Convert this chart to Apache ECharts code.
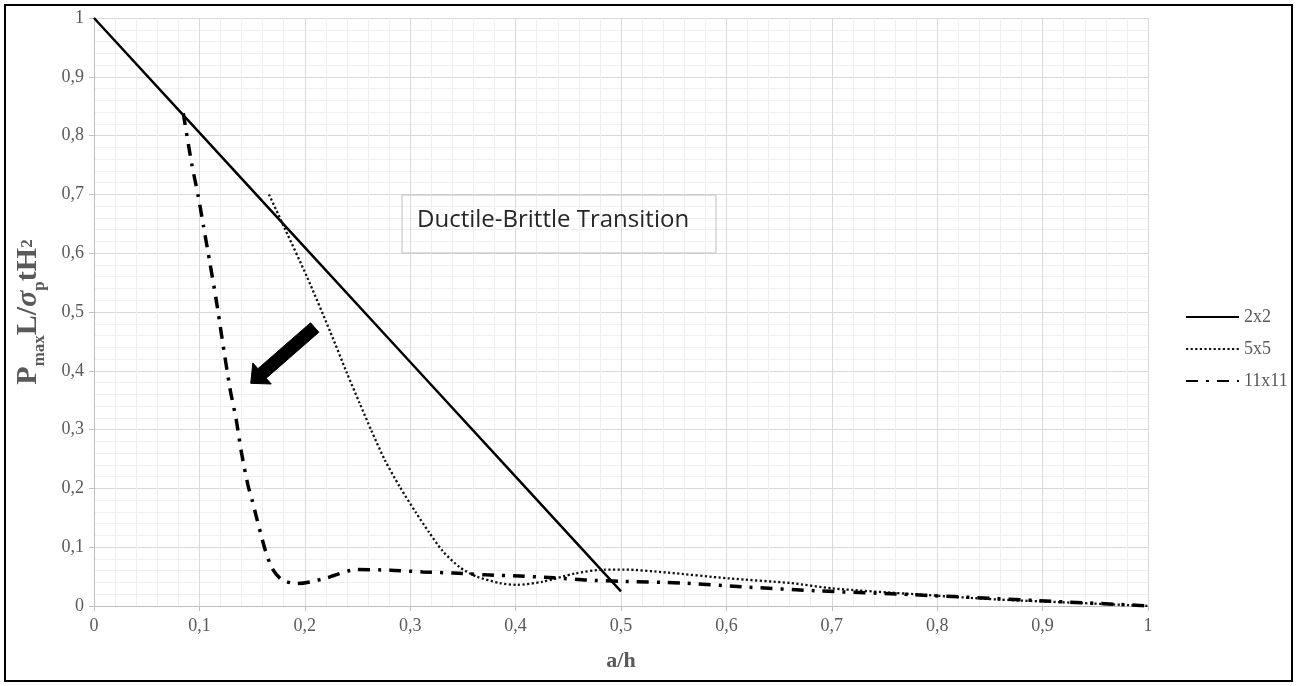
<!DOCTYPE html>
<html><head><meta charset="utf-8">
<script src="https://cdn.jsdelivr.net/npm/echarts@6/dist/echarts.min.js"></script>
<style>html,body{margin:0;padding:0;background:#fff}#c{width:1297px;height:686px}</style>
</head><body><div id="c"></div>
<script>
// ---- data ----
const seriesNames = ['2x2', '5x5', '11x11'];
const x2x2 = [0, 0.1, 0.2, 0.3, 0.4, 0.5];
const y2x2 = [1, 0.805, 0.61, 0.415, 0.22, 0.025];
const x5x5 = [0.166, 0.181, 0.202, 0.224, 0.240, 0.252, 0.263, 0.276, 0.290, 0.305, 0.318, 0.331, 0.347, 0.363, 0.385, 0.401, 0.425, 0.456, 0.484, 0.503, 0.543, 0.602, 0.661, 0.700, 0.779, 0.858, 0.937, 1.0];
const y5x5 = [0.700, 0.642, 0.560, 0.467, 0.396, 0.345, 0.299, 0.248, 0.203, 0.160, 0.125, 0.093, 0.066, 0.050, 0.039, 0.036, 0.041, 0.055, 0.062, 0.062, 0.057, 0.047, 0.039, 0.030, 0.020, 0.011, 0.005, 0.000];
const x11x11 = [0.0847, 0.0926, 0.099, 0.104, 0.110, 0.116, 0.121, 0.129, 0.135, 0.140, 0.146, 0.150, 0.154, 0.162, 0.169, 0.178, 0.192, 0.205, 0.221, 0.249, 0.281, 0.312, 0.341, 0.372, 0.404, 0.436, 0.468, 0.499, 0.558, 0.621, 0.684, 0.779, 0.897, 0.992, 1.0];
const y11x11 = [0.838, 0.753, 0.696, 0.645, 0.583, 0.520, 0.461, 0.370, 0.316, 0.260, 0.206, 0.180, 0.152, 0.098, 0.064, 0.045, 0.038, 0.041, 0.048, 0.062, 0.061, 0.058, 0.056, 0.053, 0.051, 0.048, 0.044, 0.042, 0.039, 0.032, 0.026, 0.019, 0.009, 0.001, 0.000];
const annotationText = 'Ductile-Brittle Transition';
const arrowTail = [0.2094, 0.4736];
const arrowTip = [0.1487, 0.3787];

const pairs = (xs, ys) => xs.map((x, i) => [x, ys[i]]);
const fmt = v => String(Math.round(v * 10) / 10).replace('.', ',');
const grey = '#595959';
const serif = 'Liberation Serif';

const chart = echarts.init(document.getElementById('c'), null, { renderer: 'canvas' });

const axisCommon = {
  type: 'value', min: 0, max: 1, interval: 0.1,
  axisLine: { show: true, lineStyle: { color: '#bfbfbf', width: 1 } },
  axisTick: { show: true, length: 5, lineStyle: { color: '#bfbfbf' } },
  axisLabel: { formatter: fmt, fontFamily: serif, fontSize: 18, color: grey },
  splitLine: { show: true, lineStyle: { color: '#d9d9d9', width: 1 } },
  minorTick: { show: false, splitNumber: 5 },
  minorSplitLine: { show: true, lineStyle: { color: '#efefef', width: 1 } }
};

chart.setOption({
  animation: false,
  backgroundColor: '#fff',
  grid: { left: 94, right: 149, top: 18, bottom: 80, containLabel: false },
  legend: {
    data: seriesNames, orient: 'vertical', left: 1185, top: 308, padding: 0,
    itemWidth: 53, itemHeight: 14, itemGap: 14,
    itemStyle: { opacity: 0 },
    textStyle: { fontFamily: serif, fontSize: 18, color: grey }
  },
  xAxis: Object.assign({}, axisCommon, {
    name: 'a/h', nameLocation: 'middle', nameGap: 44,
    nameTextStyle: { fontFamily: serif, fontSize: 22, fontWeight: 'bold', color: grey },
    axisLabel: Object.assign({}, axisCommon.axisLabel, { margin: 11 })
  }),
  yAxis: Object.assign({}, axisCommon, {
    name: '{b|P}{s|max}{b|L/}{i|σ}{s|p}{b|tH}{u|2}',
    nameLocation: 'middle', nameRotate: 90, nameGap: 46,
    nameTextStyle: {
      color: grey,
      rich: {
        b: { fontFamily: serif, fontSize: 30, fontWeight: 'bold', color: grey, lineHeight: 40 },
        i: { fontFamily: serif, fontSize: 30, fontWeight: 'bold', fontStyle: 'italic', color: grey, lineHeight: 40 },
        s: { fontFamily: serif, fontSize: 17, fontWeight: 'bold', color: grey, lineHeight: 17, verticalAlign: 'bottom' },
        u: { fontFamily: serif, fontSize: 17, fontWeight: 'bold', color: grey, lineHeight: 17, verticalAlign: 'middle' }
      }
    },
    axisLabel: Object.assign({}, axisCommon.axisLabel, { margin: 10 })
  }),
  series: [
    { name: '2x2', type: 'line', data: pairs(x2x2, y2x2), showSymbol: false, symbol: 'none',
      lineStyle: { color: '#000', width: 2.5, type: 'solid' }, itemStyle: { color: '#000' } },
    { name: '5x5', type: 'line', data: pairs(x5x5, y5x5), showSymbol: false, symbol: 'none', smooth: 0.25,
      lineStyle: { color: '#111', width: 2.3, type: [2.2, 2.4] }, itemStyle: { color: '#111' } },
    { name: '11x11', type: 'line', data: pairs(x11x11, y11x11), showSymbol: false, symbol: 'none', smooth: 0.25,
      lineStyle: { color: '#000', width: 3.5, type: [12, 8, 3, 8] }, itemStyle: { color: '#000' } }
  ]
});

// annotations positioned from data coordinates
const t = chart.convertToPixel({ gridIndex: 0 }, arrowTip);
const s = chart.convertToPixel({ gridIndex: 0 }, arrowTail);
const dx = s[0] - t[0], dy = s[1] - t[1], L = Math.hypot(dx, dy);
const ux = dx / L, uy = dy / L, nx = -uy, ny = ux;
const headLen = 15, headHalf = 14, shaftHalf = 6.3;
const bx = t[0] + ux * headLen, by = t[1] + uy * headLen;
const arrowPts = [
  t,
  [bx + nx * headHalf, by + ny * headHalf],
  [bx + nx * shaftHalf, by + ny * shaftHalf],
  [s[0] + nx * shaftHalf, s[1] + ny * shaftHalf],
  [s[0] - nx * shaftHalf, s[1] - ny * shaftHalf],
  [bx - nx * shaftHalf, by - ny * shaftHalf],
  [bx - nx * headHalf, by - ny * headHalf]
];

chart.setOption({
  graphic: [
    { type: 'rect', shape: { x: 5, y: 5, width: 1287, height: 676 }, style: { fill: 'none', stroke: '#000', lineWidth: 2 }, silent: true, z: 100 },
    { type: 'rect', shape: { x: 402, y: 195, width: 314, height: 58 }, style: { fill: 'none', stroke: '#bfbfbf', lineWidth: 1 }, silent: true, z: 100 },
    { type: 'text', x: 417, y: 220, style: { text: annotationText, fontFamily: 'Open Sans', fontSize: 24, fill: '#262626', verticalAlign: 'middle', align: 'left' }, silent: true, z: 100 },
    { type: 'polygon', shape: { points: arrowPts }, style: { fill: '#000', stroke: '#000', lineWidth: 1 }, silent: true, z: 100 }
  ]
});
</script></body></html>
